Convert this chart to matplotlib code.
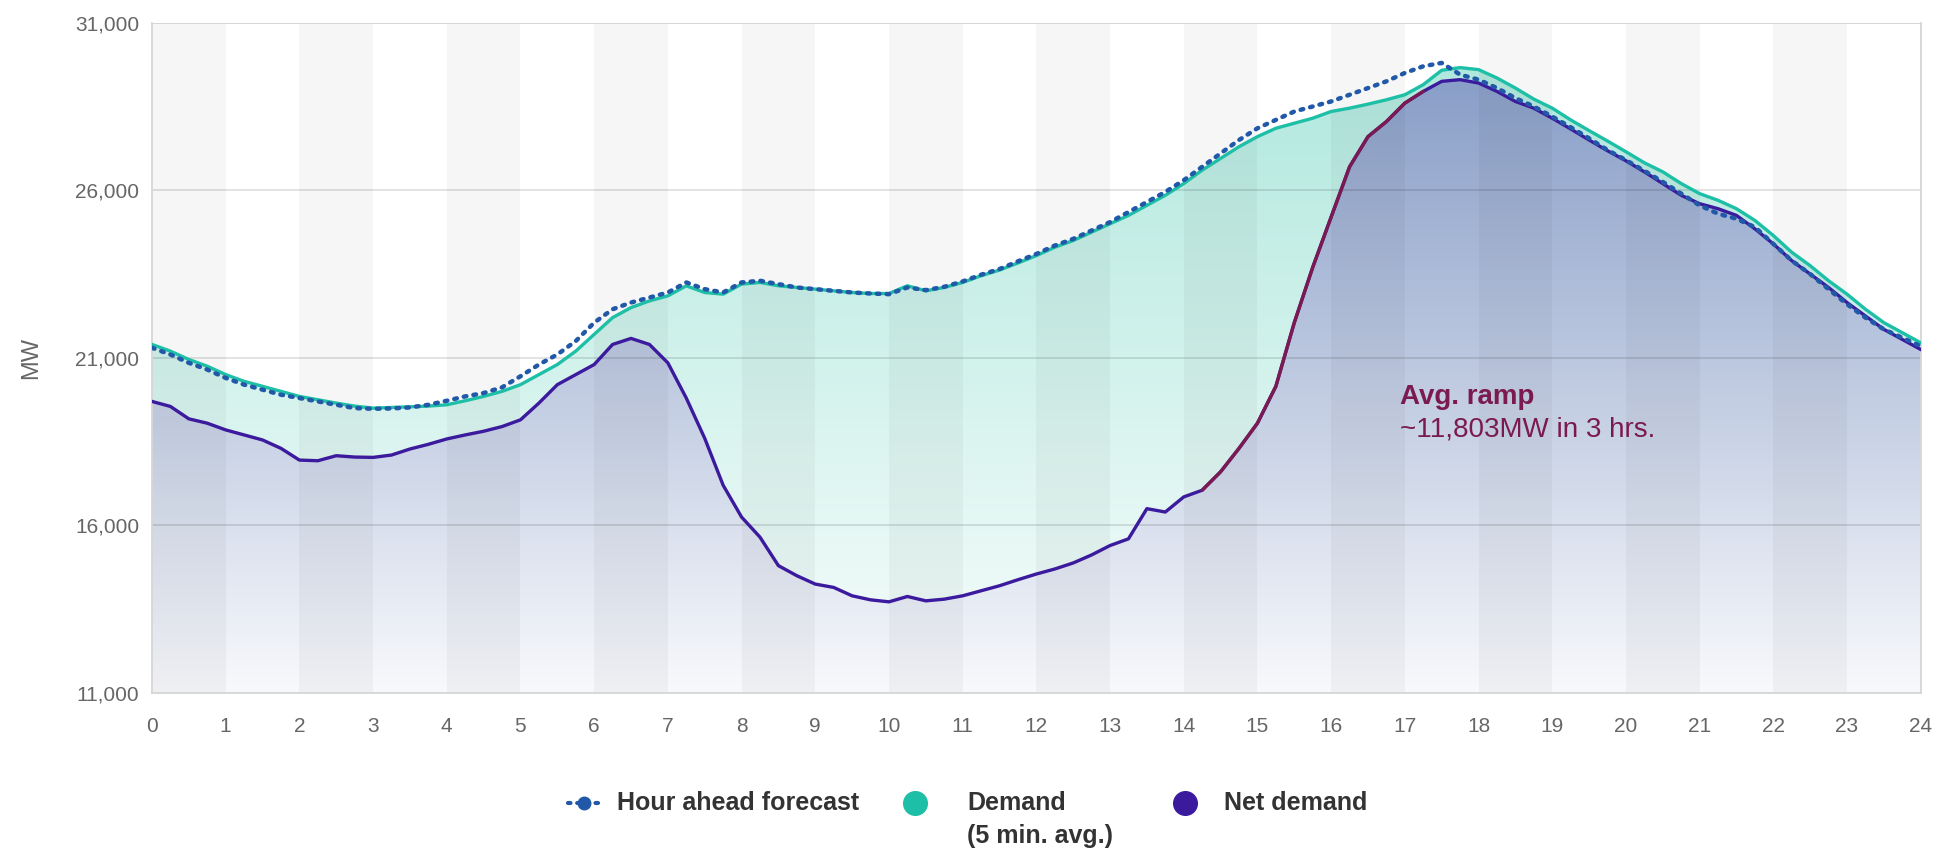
import matplotlib
matplotlib.use("Agg")
import matplotlib.pyplot as plt
import numpy as np
from matplotlib.colors import LinearSegmentedColormap
from matplotlib.patches import PathPatch
from matplotlib.lines import Line2D

plt.rcParams['font.family'] = ['Liberation Sans', 'DejaVu Sans']

# hour of day, quarter-hour steps
hours = [i * 0.25 for i in range(97)]

# Demand (5 min. avg.), MW
demand = [21400, 21200, 20950, 20750, 20500, 20300, 20150, 20000,
          19850, 19750, 19650, 19560, 19500, 19520, 19540, 19560,
          19600, 19720, 19850, 20000, 20200, 20500, 20800, 21200,
          21700, 22200, 22500, 22700, 22850, 23150, 22950, 22900,
          23200, 23250, 23150, 23100, 23050, 23000, 22950, 22920,
          22920, 23150, 23000, 23100, 23250, 23450, 23620, 23830,
          24050, 24300, 24500, 24750, 25000, 25250, 25550, 25850,
          26200, 26600, 26950, 27300, 27600, 27850, 28000, 28150,
          28350, 28450, 28570, 28700, 28850, 29150, 29580, 29660,
          29600, 29350, 29050, 28720, 28450, 28100, 27780, 27470,
          27150, 26820, 26550, 26200, 25900, 25700, 25450, 25100,
          24650, 24150, 23750, 23300, 22900, 22450, 22050, 21750,
          21450]

# Net demand, MW
net_demand = [19700, 19550, 19180, 19050, 18850, 18700, 18550, 18300,
              17950, 17930, 18080, 18040, 18030, 18100, 18280, 18420,
              18580, 18700, 18810, 18950, 19150, 19650, 20200, 20500,
              20800, 21400, 21580, 21400, 20850, 19800, 18600, 17200,
              16250, 15650, 14800, 14500, 14250, 14150, 13900, 13780,
              13720, 13880, 13750, 13800, 13900, 14050, 14200, 14380,
              14550, 14700, 14880, 15120, 15400, 15600, 16500, 16400,
              16850, 17050, 17600, 18300, 19050, 20150, 22050, 23700,
              25200, 26700, 27600, 28050, 28600, 28950, 29250, 29300,
              29200, 28950, 28650, 28450, 28150, 27830, 27500, 27180,
              26880, 26550, 26200, 25850, 25600, 25450, 25250, 24850,
              24400, 23900, 23500, 23100, 22650, 22250, 21850, 21550,
              21250]

# Hour ahead forecast, MW
forecast = [21300, 21100, 20850, 20650, 20400, 20200, 20050, 19900,
            19800, 19700, 19600, 19500, 19480, 19490, 19520, 19600,
            19720, 19850, 19950, 20120, 20450, 20800, 21100, 21500,
            22050, 22450, 22650, 22800, 22950, 23250, 23050, 22950,
            23250, 23300, 23200, 23100, 23050, 23000, 22950, 22920,
            22900, 23100, 23020, 23120, 23280, 23480, 23650, 23880,
            24100, 24350, 24550, 24800, 25050, 25350, 25650, 25950,
            26300, 26700, 27100, 27500, 27850, 28100, 28350, 28500,
            28650, 28850, 29050, 29250, 29500, 29700, 29800, 29450,
            29300, 29050, 28750, 28500, 28200, 27880, 27550, 27200,
            26900, 26580, 26250, 25900, 25550, 25300, 25150, 24900,
            24400, 23900, 23500, 23050, 22600, 22200, 21850, 21600,
            21350]

# evening ramp highlighted on the net demand curve
ramp_start, ramp_end = 14.25, 17.25
ramp_title = 'Avg. ramp'
ramp_text = '~11,803MW in 3 hrs.'

y_ticks = [11000, 16000, 21000, 26000, 31000]
x_ticks = list(range(25))

TEAL = '#1dbfa6'
INDIGO = '#3b1a9e'
MAROON = '#7b1a50'
FORECAST_BLUE = '#2159a8'
GREY_TXT = '#666666'


def gradient_fill(ax, x, y, top_color, bottom_color, zorder):
    """Fill the area under a curve with a vertical colour gradient"""
    poly = ax.fill_between(x, y, y_ticks[0], color='none', lw=0)
    path = poly.get_paths()[0]
    patch = PathPatch(path, transform=ax.transData, facecolor='none', edgecolor='none')
    ax.add_patch(patch)
    cmap = LinearSegmentedColormap.from_list('g', [bottom_color, top_color])
    grad = np.linspace(0, 1, 256).reshape(-1, 1)
    im = ax.imshow(grad, extent=[0, 24, y_ticks[0], y_ticks[-1]], origin='lower',
                   aspect='auto', cmap=cmap, zorder=zorder, interpolation='bicubic')
    im.set_clip_path(patch)


fig = plt.figure(figsize=(19.46, 8.5), dpi=100)
ax = fig.add_axes([0.0781, 0.1847, 0.9089, 0.7886])

gradient_fill(ax, hours, demand, '#ace7dc', '#f8fdfc', 1)
gradient_fill(ax, hours, net_demand, '#7f96c3', '#f8f9fc', 1.5)

# alternating hour bands
for h in range(0, 24, 2):
    ax.axvspan(h, h + 1, color='black', alpha=0.035, lw=0, zorder=2)

for yt in y_ticks[1:]:
    ax.axhline(yt, color='black', alpha=0.12, lw=1.3, zorder=2.5)

ax.plot(hours, demand, color=TEAL, lw=2.4, zorder=5, solid_joinstyle='round')
ax.plot(hours, net_demand, color=INDIGO, lw=2.4, zorder=5, solid_joinstyle='round')

hrs = np.array(hours)
net = np.array(net_demand)
ramp = (hrs >= ramp_start) & (hrs <= ramp_end)
ax.plot(hrs[ramp], net[ramp], color=MAROON, lw=2.4, zorder=5.5, solid_capstyle='round')

ax.plot(hours, forecast, color=FORECAST_BLUE, lw=3.2, linestyle=(0, (0.6, 1.6)),
        dash_capstyle='round', zorder=6)

ax.text(16.93, 19830, ramp_title, color=MAROON, fontsize=20, fontweight='bold',
        va='center', ha='left', zorder=7)
ax.text(16.93, 18850, ramp_text, color=MAROON, fontsize=20,
        va='center', ha='left', zorder=7)

ax.set_xlim(0, 24)
ax.set_ylim(y_ticks[0], y_ticks[-1])
ax.set_xticks(x_ticks)
ax.set_yticks(y_ticks)
ax.set_yticklabels([f'{v:,}' for v in y_ticks])
ax.tick_params(axis='both', length=0, labelsize=15, labelcolor=GREY_TXT)
ax.tick_params(axis='y', pad=9)
ax.tick_params(axis='x', pad=17)
ax.set_ylabel('MW', fontsize=17, color=GREY_TXT)
ax.yaxis.set_label_coords(-0.062, 0.5)

for side, sp in ax.spines.items():
    sp.set_color('#d6d6d6')
    sp.set_linewidth(1.3)
ax.spines['top'].set_visible(False)
ax.axhline(y_ticks[-1], color='#d6d6d6', lw=1.3, zorder=2.5)

# legend, drawn by hand to keep the two-line demand label like the original
ly = 0.055
fig.add_artist(Line2D([0.292, 0.308], [ly, ly], transform=fig.transFigure,
                      color=FORECAST_BLUE, lw=3, linestyle=(0, (0.6, 1.6)),
                      dash_capstyle='round'))
fig.add_artist(Line2D([0.300], [ly], transform=fig.transFigure, marker='o',
                      markersize=9, color=FORECAST_BLUE, lw=0))
fig.text(0.317, ly, 'Hour ahead forecast', fontsize=18, fontweight='bold',
         color='#333333', va='center', ha='left')
fig.add_artist(Line2D([0.470], [ly], transform=fig.transFigure, marker='o',
                      markersize=17, color=TEAL, lw=0))
fig.text(0.497, ly, 'Demand', fontsize=18, fontweight='bold',
         color='#333333', va='center', ha='left')
fig.text(0.497, ly - 0.038, '(5 min. avg.)', fontsize=18, fontweight='bold',
         color='#333333', va='center', ha='left')
fig.add_artist(Line2D([0.609], [ly], transform=fig.transFigure, marker='o',
                      markersize=17, color=INDIGO, lw=0))
fig.text(0.629, ly, 'Net demand', fontsize=18, fontweight='bold',
         color='#333333', va='center', ha='left')

fig.savefig('out.png', dpi=100, facecolor='white')
